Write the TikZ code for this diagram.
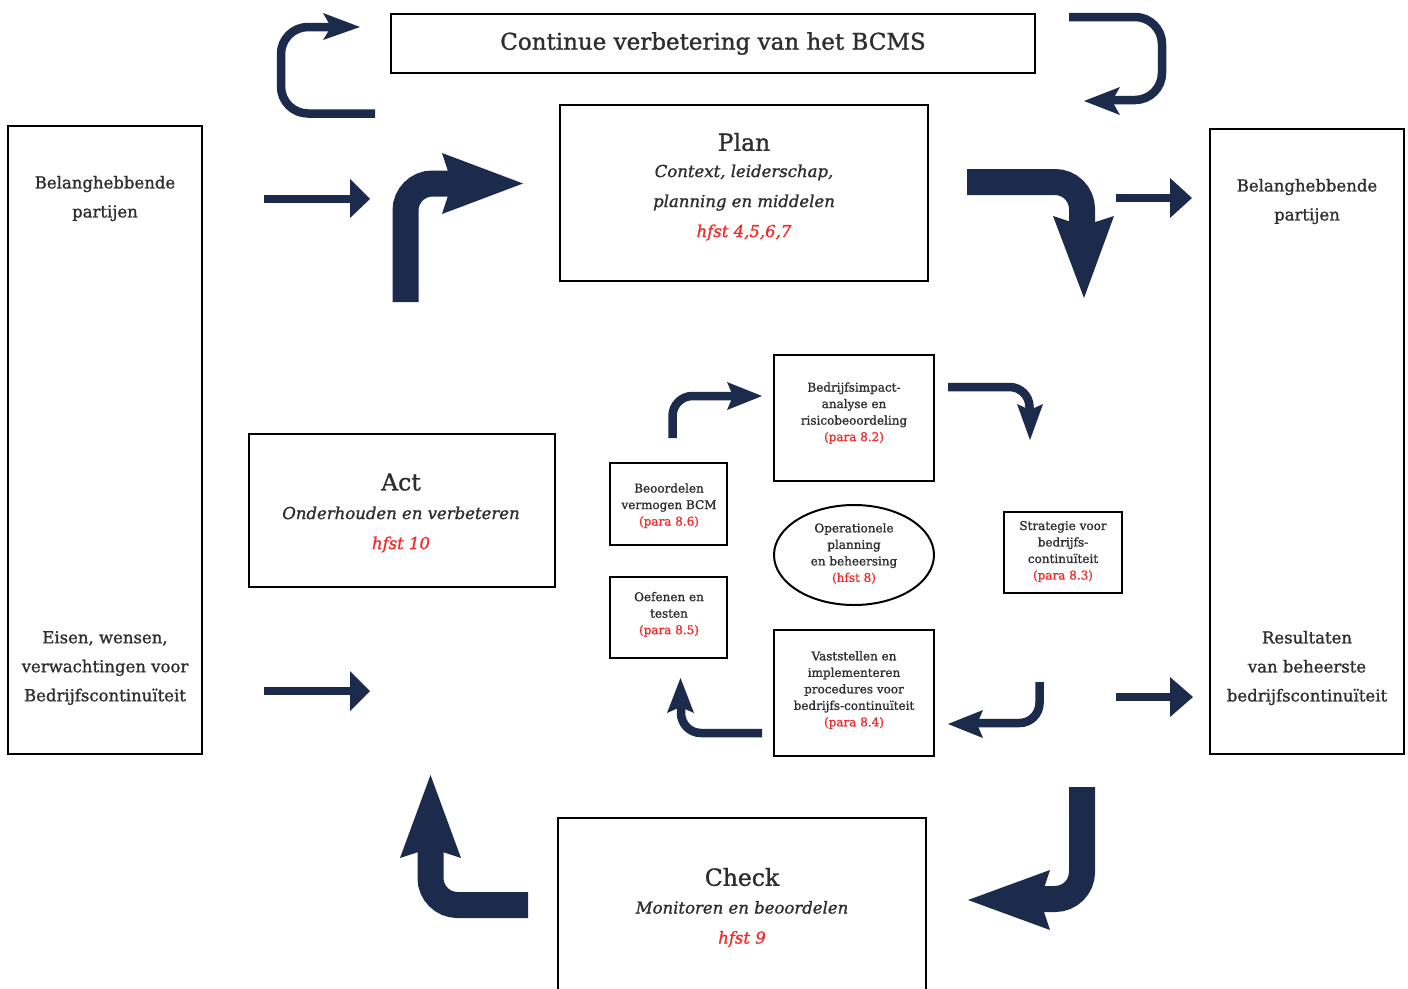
\documentclass[tikz,border=0pt]{standalone}
\usepackage{fontspec}
\setmainfont{DejaVu Serif}[BoldFont=DejaVu Serif, BoldFeatures={FakeBold=1.2}, BoldItalicFont=DejaVu Serif Italic, BoldItalicFeatures={FakeBold=1.2}]
\usetikzlibrary{shapes.geometric}
\definecolor{navy}{HTML}{1C2A4B}
\definecolor{redc}{HTML}{EE2D2F}
\definecolor{txtc}{HTML}{2E2E2E}
\tikzset{
  box/.style={draw=black, line width=2.5pt, inner sep=0pt},
  sbox/.style={draw=black, line width=2pt, inner sep=0pt},
  bigarrow/.style={draw=navy, line width=26pt, rounded corners=27pt},
  thinarrow/.style={draw=navy, line width=8.5pt, rounded corners=20pt},
  loopline/.style={draw=navy, line width=8.5pt, rounded corners=27pt},
  headfill/.style={fill=navy},
  lbl/.style={text=txtc, align=center, inner sep=0pt, font=\fontsize{16.5}{29}\selectfont\bfseries},
  sml/.style={text=txtc, align=center, inner sep=0pt, font=\fontsize{12}{16.5}\selectfont\bfseries},
  hd/.style={text=txtc, inner sep=0pt, font=\fontsize{23.5}{28}\selectfont\bfseries},
  itl/.style={text=txtc, align=center, inner sep=0pt, font=\fontsize{16.5}{30}\selectfont\bfseries\itshape},
}
\begin{document}
\begin{tikzpicture}[x=1pt, y=-1pt]
\useasboundingbox (0,0) rectangle (1408,988);
\fill[white] (0,0) rectangle (1408,988);

% ---- main boxes ----
\node[box, minimum width=644pt, minimum height=59pt, text=txtc, font=\fontsize{23}{28}\selectfont\bfseries] (title) at (713,43.5) {Continue verbetering van het BCMS};
\node[box, minimum width=194pt, minimum height=628pt] (leftbox) at (105,440) {};
\node[box, minimum width=194pt, minimum height=625pt] (rightbox) at (1307,441.5) {};
\node[box, minimum width=368pt, minimum height=176pt] (plan) at (744,193) {};
\node[box, minimum width=306pt, minimum height=153pt] (act) at (402,510.5) {};
\node[box, minimum width=368pt, minimum height=180pt] (check) at (742,908) {};

% ---- texts in main boxes ----
\node[lbl] (lt) at (105,198.5) {Belanghebbende\\partijen};
\node[lbl] (lb) at (105,668) {Eisen, wensen,\\verwachtingen voor\\Bedrijfscontinuïteit};
\node[lbl] (rt) at (1307,201.5) {Belanghebbende\\partijen};
\node[lbl] (rb) at (1307,668) {Resultaten\\van beheerste\\bedrijfscontinuïteit};

\node[hd] (planh) at (744,142) {Plan};
\node[itl] (plant) at (744,202.5) {Context, leiderschap,\\planning en middelen\\{\color{redc}hfst 4,5,6,7}};
\node[hd] (acth) at (401,482) {Act};
\node[itl] (actt) at (401,529.5) {Onderhouden en verbeteren\\{\color{redc}hfst 10}};
\node[hd] (checkh) at (742,877) {Check};
\node[itl] (checkt) at (742,924) {Monitoren en beoordelen\\{\color{redc}hfst 9}};

% ---- small boxes ----
\node[sbox, minimum width=160pt, minimum height=126pt] (bia) at (854,418) {};
\node[sml] (biat) at (854,413) {Bedrijfsimpact-\\analyse en\\risicobeoordeling\\{\color{redc}(para 8.2)}};
\node[sbox, minimum width=117pt, minimum height=82pt] (beo) at (668.5,504) {};
\node[sml] (beot) at (669,505.7) {Beoordelen\\vermogen BCM\\{\color{redc}(para 8.6)}};
\node[sbox, ellipse, minimum width=160pt, minimum height=100pt] (ops) at (854,555) {};
\node[sml] (opst) at (854,553.5) {Operationele\\planning\\en beheersing\\{\color{redc}(hfst 8)}};
\node[sbox, minimum width=118pt, minimum height=81pt] (str) at (1063,552.5) {};
\node[sml] (strt) at (1063,551.5) {Strategie voor\\bedrijfs-\\continuïteit\\{\color{redc}(para 8.3)}};
\node[sbox, minimum width=117pt, minimum height=81pt] (oef) at (668.5,617.5) {};
\node[sml] (oeft) at (669,614.3) {Oefenen en\\testen\\{\color{redc}(para 8.5)}};
\node[sbox, minimum width=160pt, minimum height=126pt] (vas) at (854,693) {};
\node[sml] (vast) at (854,690) {Vaststellen en\\implementeren\\procedures voor\\bedrijfs-continuïteit\\{\color{redc}(para 8.4)}};

% ---- top loop arrows ----
\draw[loopline] (375,113.5) -- (281,113.5) -- (281,27) -- (332,27);
\fill[headfill] (323,13) -- (360,27) -- (323,40) -- (331,27) -- cycle;
\draw[loopline] (1069,17) -- (1162,17) -- (1162,100) -- (1108,100);
\fill[headfill] (1120,87) -- (1084,101) -- (1120,115) -- (1112,101) -- cycle;

% ---- straight arrows ----
\draw[navy, line width=8.5pt] (264,199) -- (352,199);
\fill[headfill] (350,179) -- (370,199) -- (350,218) -- cycle;
\draw[navy, line width=8.5pt] (264,691) -- (352,691);
\fill[headfill] (350,671) -- (370,691) -- (350,711) -- cycle;
\draw[navy, line width=8.5pt] (1116,198) -- (1172,198);
\fill[headfill] (1170,178) -- (1192,198) -- (1170,218) -- cycle;
\draw[navy, line width=8.5pt] (1116,697) -- (1172,697);
\fill[headfill] (1170,677) -- (1193,697) -- (1170,717) -- cycle;

% ---- big bent arrows ----
\draw[bigarrow] (405.5,302) -- (405.5,183.5) -- (462,183.5);
\fill[headfill] (442,153) -- (523,183.5) -- (442,214) -- (452,183.5) -- cycle;
\draw[bigarrow] (967,182) -- (1082,182) -- (1082,235);
\fill[headfill] (1053,216) -- (1084,298) -- (1114,216) -- (1083,226) -- cycle;
\draw[bigarrow] (1082,787) -- (1082,899) -- (1030,899);
\fill[headfill] (1050,870) -- (968,900) -- (1050,930) -- (1040,900) -- cycle;
\draw[bigarrow] (528,905) -- (430.5,905) -- (430.5,840);
\fill[headfill] (400,858) -- (430.5,775) -- (461,858) -- (430.5,848) -- cycle;

% ---- small bent arrows ----
\draw[thinarrow] (672.5,438) -- (672.5,396) -- (740,396);
\fill[headfill] (727,382) -- (762,396) -- (727,410) -- (733,396) -- cycle;
\draw[thinarrow] (948,387) -- (1029.5,387) -- (1029.5,418);
\fill[headfill] (1017,404) -- (1030,440) -- (1043,404) -- (1030,410) -- cycle;
\draw[thinarrow] (1039.5,682) -- (1039.5,723) -- (970,723);
\fill[headfill] (983,710) -- (948,724) -- (983,738) -- (977,724) -- cycle;
\draw[thinarrow] (762,733) -- (681,733) -- (681,700);
\fill[headfill] (667,713) -- (680.5,678) -- (694,713) -- (680.5,707) -- cycle;
\end{tikzpicture}
\end{document}
